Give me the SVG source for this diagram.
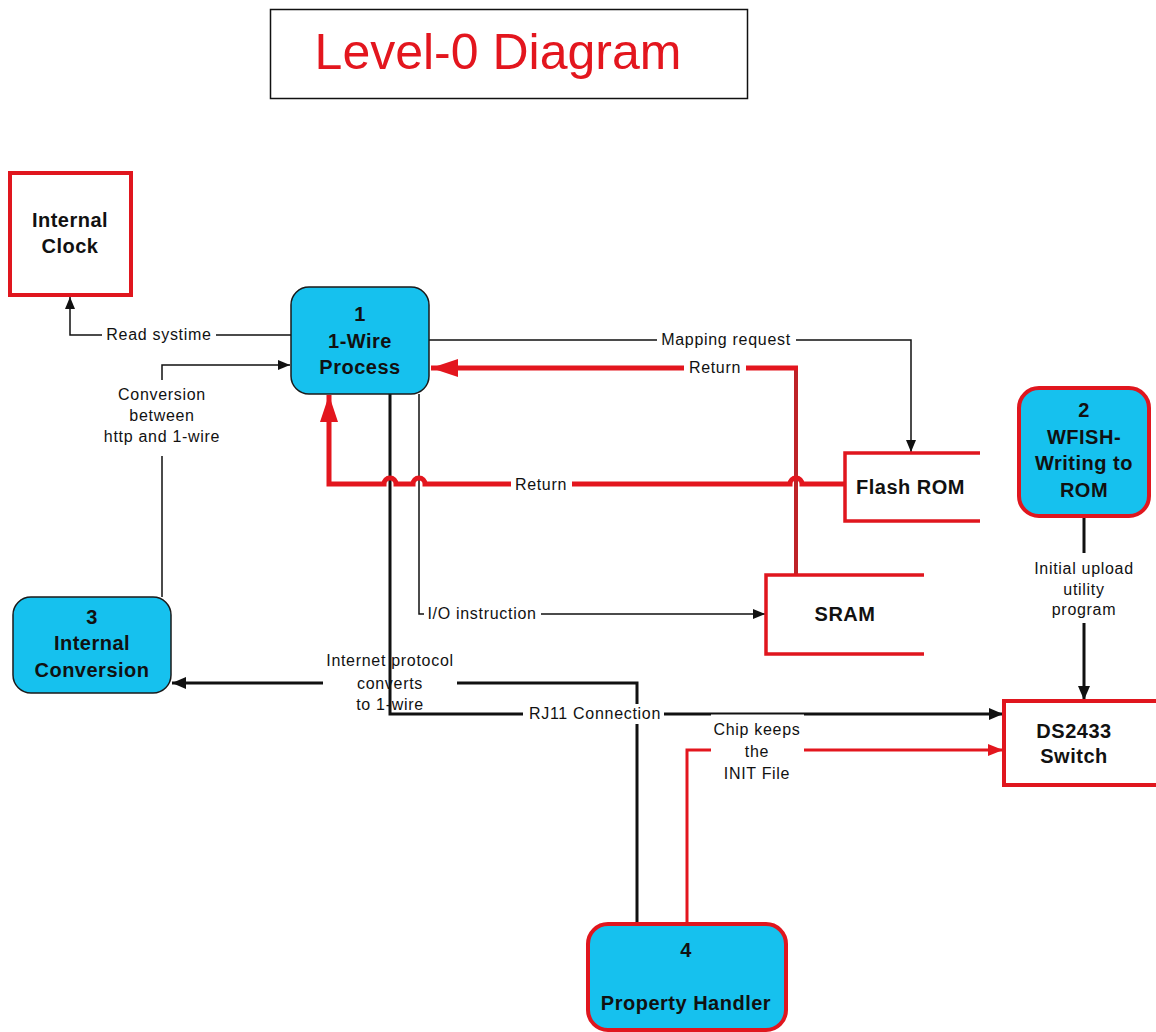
<svg xmlns="http://www.w3.org/2000/svg" width="1156" height="1032" viewBox="0 0 1156 1032">
  <style>
    .node-title { font-family: "Liberation Sans", Arial, sans-serif; font-weight: bold; font-size: 20px; letter-spacing: 0.5px; fill: #111; text-anchor: middle; }
    .lbl { font-family: "Liberation Sans", Arial, sans-serif; font-size: 16px; letter-spacing: 0.7px; fill: #111; text-anchor: middle; }
    .proc { fill: #16C1EE; }
    .proc-dark { stroke: #1a1a1a; stroke-width: 1.5; }
    .red-edge { stroke: #E0161E; stroke-width: 4; }
    .ext { fill: #fff; stroke: #E0161E; stroke-width: 4; }
    .store { fill: none; stroke: #E0161E; stroke-width: 3.5; }
    .thin { fill: none; stroke: #111; stroke-width: 1.5; }
    .thick { fill: none; stroke: #111; stroke-width: 3; }
    .ret { fill: none; stroke: #E3161E; stroke-width: 5; }
    .ret-dark { fill: none; stroke: #BE2228; stroke-width: 4; }
    .chip { fill: none; stroke: #E3161E; stroke-width: 3; }
    .bg { fill: #fff; }
  </style>
  <defs>
    <marker id="arrowThin" markerUnits="userSpaceOnUse" markerWidth="12" markerHeight="10" refX="12" refY="5" orient="auto">
      <path d="M0,0 L12,5 L0,10 z" fill="#111"/>
    </marker>
    <marker id="arrowThick" markerUnits="userSpaceOnUse" markerWidth="14" markerHeight="12" refX="14" refY="6" orient="auto">
      <path d="M0,0 L14,6 L0,12 z" fill="#111"/>
    </marker>
    <marker id="arrowRed" markerUnits="userSpaceOnUse" markerWidth="27" markerHeight="18" refX="27" refY="9" orient="auto">
      <path d="M0,0 L27,9 L0,18 z" fill="#E3161E"/>
    </marker>
    <marker id="arrowRedSmall" markerUnits="userSpaceOnUse" markerWidth="15" markerHeight="12" refX="15" refY="6" orient="auto">
      <path d="M0,0 L15,6 L0,12 z" fill="#E3161E"/>
    </marker>
  </defs>

  <rect width="1156" height="1032" fill="#fff"/>

  <!-- heading -->
  <g id="heading">
    <rect x="270.5" y="9.5" width="477" height="89" fill="#fff" stroke="#111" stroke-width="1.5"/>
    <text x="498" y="69" font-family="'Liberation Sans', Arial, sans-serif" font-size="50" fill="#E3161E" text-anchor="middle">Level-0 Diagram</text>
  </g>

  <!-- connectors -->
  <g id="connectors">
    <!-- Read systime -->
    <path class="thin" d="M291,335 H216 M102,335 H70 V297" marker-end="url(#arrowThin)"/>
    <text class="lbl" x="159" y="340">Read systime</text>

    <!-- Conversion between http and 1-wire -->
    <path class="thin" d="M162,597 V456 M162,380 V365 H290" marker-end="url(#arrowThin)"/>
    <text class="lbl" x="162" y="400">Conversion</text>
    <text class="lbl" x="162" y="421">between</text>
    <text class="lbl" x="162" y="442">http and 1-wire</text>

    <!-- Mapping request -->
    <path class="thin" d="M429,340 H657 M796,340 H911 V452" marker-end="url(#arrowThin)"/>
    <text class="lbl" x="726" y="345">Mapping request</text>

    <!-- I/O instruction -->
    <path class="thin" d="M419,394 V614 H424 M541,614 H765" marker-end="url(#arrowThin)"/>
    <text class="lbl" x="482" y="619">I/O instruction</text>

    <!-- Internet protocol converts to 1-wire -->
    <path class="thick" d="M637,924 V683 H457 M323,683 H172" marker-end="url(#arrowThick)"/>

    <!-- RJ11 Connection -->
    <path class="thick" d="M390,394 V714 H1003" marker-end="url(#arrowThick)"/>
    <rect class="bg" x="523" y="704" width="141" height="20"/>
    <text class="lbl" x="595" y="719">RJ11 Connection</text>

    <text class="lbl" x="390" y="666">Internet protocol</text>
    <text class="lbl" x="390" y="689">converts</text>
    <text class="lbl" x="390" y="710">to 1-wire</text>

    <!-- Initial upload utility program -->
    <path class="thick" d="M1084,516 V553 M1084,623 V700" marker-end="url(#arrowThick)"/>
    <text class="lbl" x="1084" y="574">Initial upload</text>
    <text class="lbl" x="1084" y="595">utility</text>
    <text class="lbl" x="1084" y="615">program</text>

    <!-- Chip keeps the INIT File -->
    <path class="chip" d="M687,924 V750 H711 M804,750 H1003" marker-end="url(#arrowRedSmall)"/>
    <rect class="bg" x="711" y="714.5" width="93" height="70"/>
    <text class="lbl" x="757" y="735">Chip keeps</text>
    <text class="lbl" x="757" y="757">the</text>
    <text class="lbl" x="757" y="779">INIT File</text>

    <!-- Return from SRAM -->
    <path class="ret-dark" d="M796,575 V368"/>
    <path class="ret" d="M798,368 H746 M684,368 H431" marker-end="url(#arrowRed)"/>
    <text class="lbl" x="715" y="373">Return</text>

    <!-- Return from Flash ROM, hopping over crossing lines -->
    <path class="ret" d="M845,484 H802 A6,6 0 0 0 790,484 H572 M511,484 H425 A6,6 0 0 0 413,484 H396 A6,6 0 0 0 384,484 H329 V395" marker-end="url(#arrowRed)"/>
    <text class="lbl" x="541" y="490">Return</text>
  </g>

  <!-- external entities -->
  <g id="internal-clock">
    <rect class="ext" x="10" y="173" width="121" height="122"/>
    <text class="node-title" x="70" y="227">Internal</text>
    <text class="node-title" x="70" y="253">Clock</text>
  </g>

  <g id="ds2433-switch">
    <rect class="ext" x="1004" y="701" width="170" height="84"/>
    <text class="node-title" x="1074" y="738">DS2433</text>
    <text class="node-title" x="1074" y="763">Switch</text>
  </g>

  <!-- data stores -->
  <g id="flash-rom">
    <path class="store" d="M980,453 H845 V521 H980"/>
    <text class="node-title" x="856" y="494" style="text-anchor:start">Flash ROM</text>
  </g>

  <g id="sram">
    <path class="store" d="M924,575 H766 V654 H924"/>
    <text class="node-title" x="845" y="621">SRAM</text>
  </g>

  <!-- processes -->
  <g id="process-1">
    <rect class="proc proc-dark" x="291" y="287" width="138" height="107" rx="18"/>
    <text class="node-title" x="360" y="321">1</text>
    <text class="node-title" x="360" y="348">1-Wire</text>
    <text class="node-title" x="360" y="374">Process</text>
  </g>

  <g id="process-2">
    <rect class="proc red-edge" x="1019" y="388" width="130" height="128" rx="20"/>
    <text class="node-title" x="1084" y="417">2</text>
    <text class="node-title" x="1084" y="444">WFISH-</text>
    <text class="node-title" x="1084" y="470">Writing to</text>
    <text class="node-title" x="1084" y="497">ROM</text>
  </g>

  <g id="process-3">
    <rect class="proc proc-dark" x="13" y="597" width="158" height="96" rx="18"/>
    <text class="node-title" x="92" y="624">3</text>
    <text class="node-title" x="92" y="650">Internal</text>
    <text class="node-title" x="92" y="677">Conversion</text>
  </g>

  <g id="process-4">
    <rect class="proc red-edge" x="588" y="924" width="198" height="106" rx="20"/>
    <text class="node-title" x="686" y="957">4</text>
    <text class="node-title" x="686" y="1010">Property Handler</text>
  </g>
</svg>
